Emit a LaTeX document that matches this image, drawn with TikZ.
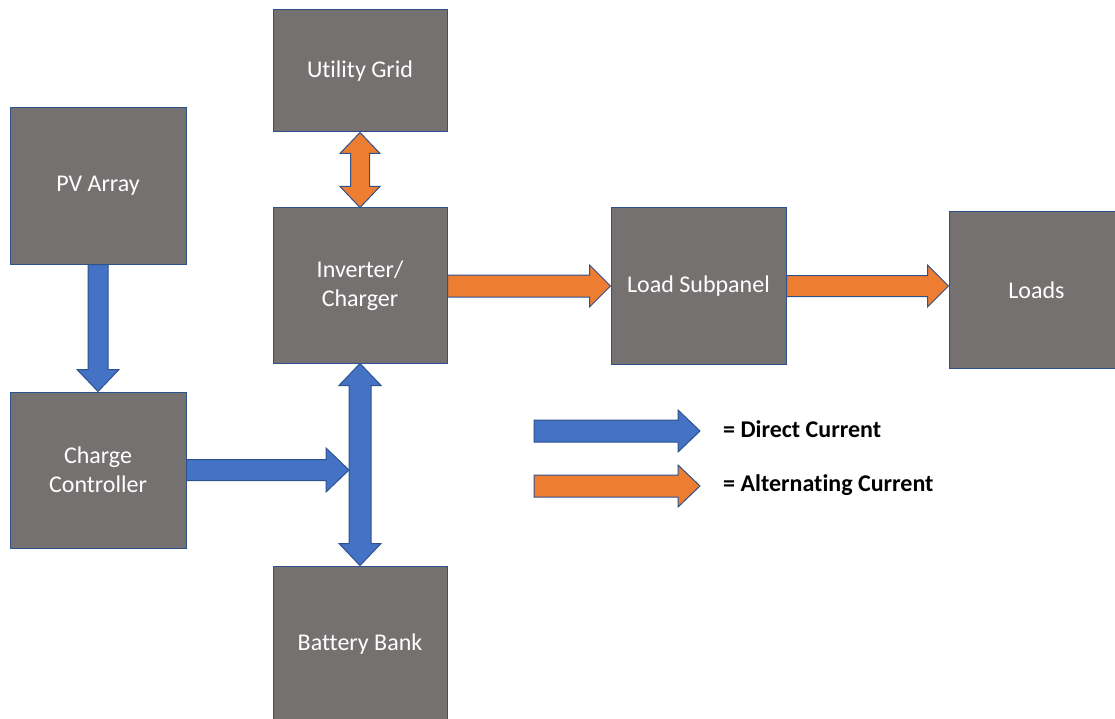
\documentclass[tikz,border=0pt]{standalone}
\usepackage{fontspec}
\setmainfont{Carlito}[Ligatures=NoCommon]
\usetikzlibrary{calc}
\definecolor{boxfill}{HTML}{767171}
\definecolor{edgeblue}{HTML}{2F528F}
\definecolor{dcblue}{HTML}{4472C4}
\definecolor{acorange}{HTML}{ED7D31}
\tikzset{
  blk/.style={draw=edgeblue, fill=boxfill, line width=1pt, inner sep=0pt, text=white,
              font=\fontsize{24}{29}\selectfont, align=center},
  dcarrow/.style={draw=edgeblue, fill=dcblue, line width=1pt, line join=miter},
  acarrow/.style={draw=edgeblue, fill=acorange, line width=1pt, line join=miter},
  legtext/.style={font=\bfseries\fontsize{24}{29}\selectfont, anchor=base west, inner sep=0pt}
}
% single block arrow: style, start, end, shaft half width, head half width, head length
\newcommand{\sblockarr}[6]{%
  \coordinate (qS) at (#2);
  \coordinate (qT) at (#3);
  \coordinate (qB) at ($(qT)!#6!(qS)$);
  \draw[#1] ($(qS)!#4!90:(qT)$) -- ($(qB)!#4!90:(qT)$) -- ($(qB)!#5!90:(qT)$) -- (qT)
     -- ($(qB)!#5!-90:(qT)$) -- ($(qB)!#4!-90:(qT)$) -- ($(qS)!#4!-90:(qT)$) -- cycle;
}
% double block arrow
\newcommand{\dblockarr}[6]{%
  \coordinate (qS) at (#2);
  \coordinate (qT) at (#3);
  \coordinate (qA) at ($(qS)!#6!(qT)$);
  \coordinate (qB) at ($(qT)!#6!(qS)$);
  \draw[#1] (qS) -- ($(qA)!#5!90:(qT)$) -- ($(qA)!#4!90:(qT)$) -- ($(qB)!#4!90:(qT)$)
     -- ($(qB)!#5!90:(qT)$) -- (qT) -- ($(qB)!#5!-90:(qT)$) -- ($(qB)!#4!-90:(qT)$)
     -- ($(qA)!#4!-90:(qT)$) -- ($(qA)!#5!-90:(qT)$) -- cycle;
}
\begin{document}
\begin{tikzpicture}[x=1pt,y=-1pt]
\useasboundingbox (0,0) rectangle (1115,719);
\clip (0,0) rectangle (1115,719);
\fill[white] (0,0) rectangle (1115,719);

\node[blk, minimum width=174pt, minimum height=122pt] (grid)  at (360,71)    {Utility Grid};
\node[blk, minimum width=176pt, minimum height=156pt] (pv)    at (98,186)    {PV Array};
\node[blk, minimum width=174pt, minimum height=155pt] (inv)   at (360,285.5) {Inverter/\\Charger};
\node[blk, minimum width=175pt, minimum height=156pt] (lsp)   at (698.5,286) {Load Subpanel};
\node[blk, minimum width=175pt, minimum height=156pt] (loads) at (1036.5,290) {Loads};
\node[blk, minimum width=176pt, minimum height=156pt] (cc)    at (98,470)    {Charge\\Controller};
\node[blk, minimum width=174pt, minimum height=156pt] (bat)   at (360,644)   {Battery Bank};

\coordinate (jn) at ($(cc.east -| inv.south)+(-11,0)$);

\dblockarr{acarrow}{grid.south}{inv.north}{9.5pt}{20pt}{21pt}
\sblockarr{dcarrow}{pv.south}{cc.north}{10pt}{21pt}{22pt}
\sblockarr{dcarrow}{cc.east}{jn}{10.5pt}{22pt}{23pt}
\dblockarr{dcarrow}{inv.south}{bat.north}{11pt}{21pt}{22pt}
\sblockarr{acarrow}{inv.east |- lsp.west}{lsp.west}{11pt}{21pt}{21pt}
\sblockarr{acarrow}{lsp.east}{lsp.east -| loads.west}{10.5pt}{21pt}{21pt}

\coordinate (dcS) at (534,431);
\coordinate (dcT) at (700,431);
\coordinate (acS) at (534,486);
\coordinate (acT) at (700,486);
\sblockarr{dcarrow}{dcS}{dcT}{11pt}{21pt}{22pt}
\sblockarr{acarrow}{acS}{acT}{11pt}{21pt}{22pt}
\node[legtext] (dclabel) at (723,437) {= Direct Current};
\node[legtext] (aclabel) at (723,491) {= Alternating Current};
\end{tikzpicture}
\end{document}
